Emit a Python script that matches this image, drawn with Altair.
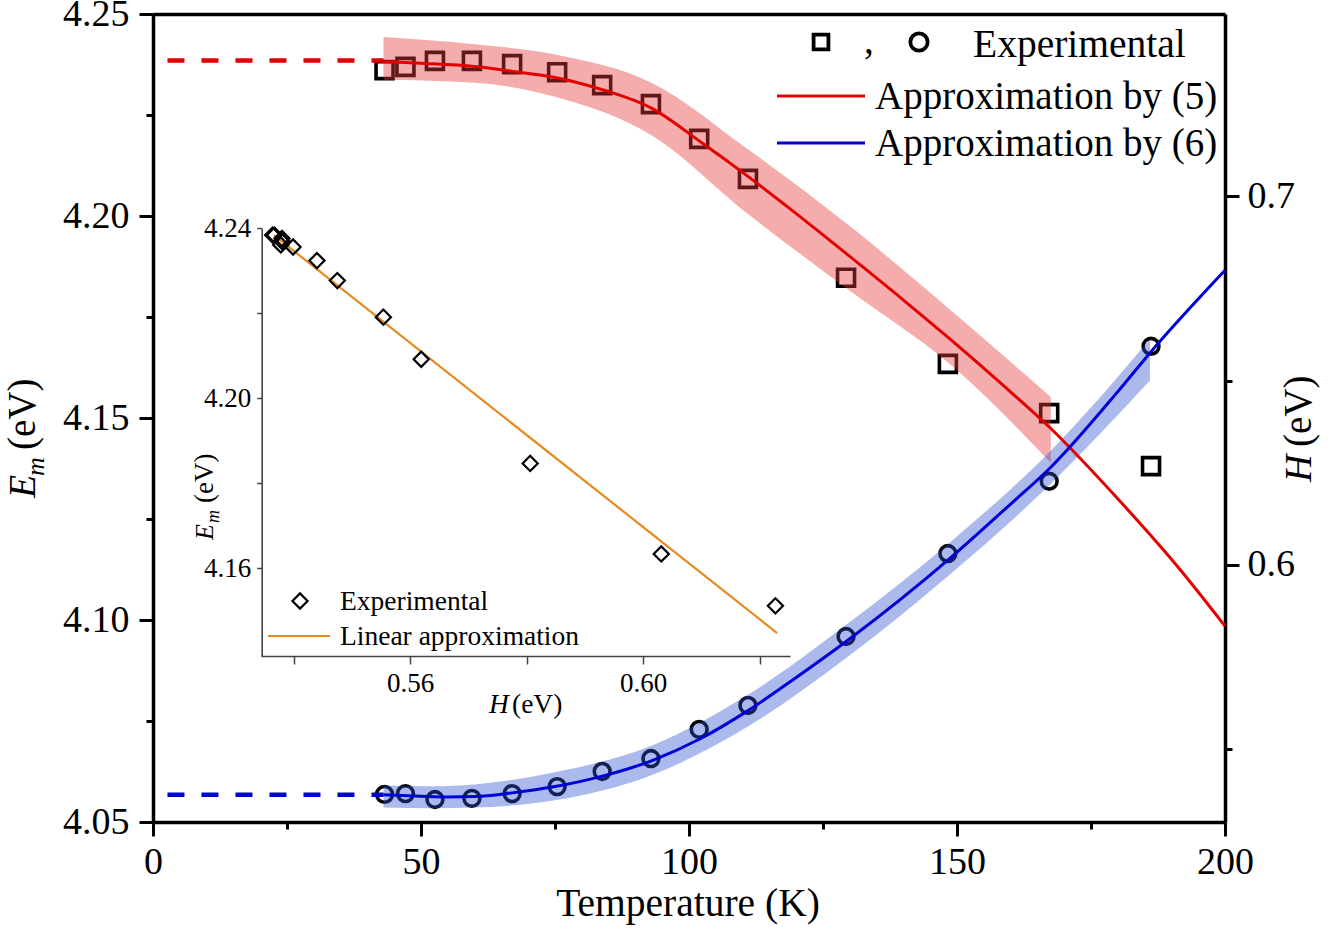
import altair as alt
import pandas as pd

# ---------------- data ----------------
T_exp = [43.2, 47.1, 52.6, 59.5, 67.0, 75.4, 83.8, 92.9, 101.9, 111.0, 129.3, 148.3, 167.2, 186.2]
Em_exp = [4.2361, 4.2369, 4.2384, 4.2384, 4.2376, 4.2356, 4.2324, 4.2277, 4.2191, 4.2092,
          4.1847, 4.1634, 4.1512, 4.1381]
H_exp = [0.5378, 0.5380, 0.5364, 0.5367, 0.5380, 0.5399, 0.5440, 0.5475, 0.5554, 0.5619,
         0.5806, 0.6031, 0.6227, 0.6593]

T_fit5 = [43, 50, 60, 67, 75, 84, 93, 102, 111, 120, 130, 140, 149, 158, 167.5, 180, 191.8, 200]
Em_fit5 = [4.2382, 4.2378, 4.2370, 4.2358, 4.2343, 4.2312, 4.2267, 4.2185, 4.2098, 4.2006,
           4.1900, 4.1792, 4.1692, 4.1588, 4.1474, 4.1300, 4.1122, 4.0985]

T_band5 = [43, 60, 75, 93, 111, 130, 149, 167.5]
Em_band5_hi = [4.2443, 4.2425, 4.2400, 4.2330, 4.2165, 4.1975, 4.1765, 4.1552]
Em_band5_lo = [4.2337, 4.2330, 4.2295, 4.2200, 4.2005, 4.1815, 4.1630, 4.1389]

T_fit6 = [43, 50, 55, 60, 67, 75, 84, 93, 102, 111, 120, 130, 149, 160, 167.5, 180, 186, 200]
H_fit6 = [0.5377, 0.5373, 0.5371, 0.5372, 0.5382, 0.5399, 0.5428, 0.5469, 0.5528, 0.5605,
          0.5695, 0.5800, 0.6022, 0.6165, 0.6265, 0.6470, 0.6575, 0.6799]

T_band6 = [43, 52, 60, 75, 93, 111, 130, 149, 167.5, 186]
H_band6_hi = [0.5402, 0.5400, 0.5405, 0.5438, 0.5510, 0.5648, 0.5845, 0.6065, 0.6310, 0.6612]
H_band6_lo = [0.5342, 0.5340, 0.5342, 0.5362, 0.5430, 0.5562, 0.5755, 0.5978, 0.6220, 0.6500]

T_dash = [2.7, 43]
Em_dash = [4.2385, 4.2385]
H_dash = [0.5377, 0.5377]

# inset: linear approximation of Em vs H
H_lin = [0.5366, 0.6230]
Em_lin = [4.2384, 4.1448]
N_INSET = 13

# ---------------- layout ----------------
FONT = "Liberation Serif"
L, TOP, W, HGT = 153, 14, 1072, 808
RED, BLUE, ORANGE = "#E50000", "#0000D8", "#E8891E"


def sc(domain, rng=None):
    kw = dict(domain=domain, nice=False, zero=False)
    if rng is not None:
        kw["range"] = rng
    return alt.Scale(**kw)


sT = sc([0, 200])
sE = sc([4.05, 4.25])
sH = sc([0.5303, 0.7494])
sHi = sc([0.5344, 0.6252], [261 - L, 790 - L])
sEi = sc([4.1394, 4.24], [656 - TOP, 228.3 - TOP])

exp_df = pd.DataFrame({"T": T_exp, "Em": Em_exp, "H": H_exp})
inset_df = exp_df.iloc[:N_INSET]
fit5_df = pd.DataFrame({"T": T_fit5, "Em": Em_fit5})
fit6_df = pd.DataFrame({"T": T_fit6, "H": H_fit6})
band5_df = pd.DataFrame({"T": T_band5, "hi": Em_band5_hi, "lo": Em_band5_lo})
band6_df = pd.DataFrame({"T": T_band6, "hi": H_band6_hi, "lo": H_band6_lo})
dash_df = pd.DataFrame({"T": T_dash, "Em": Em_dash, "H": H_dash})
lin_df = pd.DataFrame({"H": H_lin, "Em": Em_lin})
one = pd.DataFrame({"a": [0]})

X = lambda f, s, axis=None: alt.X(f, type="quantitative", scale=s, axis=axis)
Y = lambda f, s, axis=None: alt.Y(f, type="quantitative", scale=s, axis=axis)

layers = []

# ---- inset ----
layers.append(alt.Chart(lin_df).mark_line(color=ORANGE, strokeWidth=2.2).encode(
    x=X("H", sHi), y=Y("Em", sEi)))
layers.append(alt.Chart(inset_df).mark_point(shape="diamond", size=230, filled=False, color="black",
                                             strokeWidth=2.2, opacity=1).encode(
    x=X("H", sHi), y=Y("Em", sEi)))

# ---- experimental points ----
layers.append(alt.Chart(exp_df).mark_point(shape="square", size=289, filled=False, color="black",
                                           strokeWidth=3.6, opacity=1).encode(
    x=X("T", sT), y=Y("Em", sE)))
layers.append(alt.Chart(exp_df).mark_point(shape="circle", size=250, filled=False, color="black",
                                           strokeWidth=3.6, opacity=1).encode(
    x=X("T", sT), y=Y("H", sH)))

# ---- confidence bands (drawn over the markers) ----
layers.append(alt.Chart(band5_df).mark_area(color="#E83A3A", opacity=0.42, interpolate="monotone").encode(
    x=X("T", sT), y=Y("hi", sE), y2="lo"))
layers.append(alt.Chart(band6_df).mark_area(color="#3050D0", opacity=0.4, interpolate="monotone").encode(
    x=X("T", sT), y=Y("hi", sH), y2="lo"))

# ---- fits ----
layers.append(alt.Chart(fit5_df).mark_line(color=RED, strokeWidth=3, interpolate="monotone").encode(
    x=X("T", sT), y=Y("Em", sE)))
layers.append(alt.Chart(fit6_df).mark_line(color=BLUE, strokeWidth=3, interpolate="monotone").encode(
    x=X("T", sT), y=Y("H", sH)))
layers.append(alt.Chart(dash_df).mark_line(color=RED, strokeWidth=4.5, strokeDash=[17, 17]).encode(
    x=X("T", sT), y=Y("Em", sE)))
layers.append(alt.Chart(dash_df).mark_line(color=BLUE, strokeWidth=4.5, strokeDash=[17, 17]).encode(
    x=X("T", sT), y=Y("H", sH)))

# ---- axes ----
def ax(**kw):
    base = dict(title=None, grid=False, labelFont=FONT, labelColor="black", tickColor="black",
                domainColor="black", labelFlush=False, labelOverlap=False)
    base.update(kw)
    return alt.Axis(**base)


def axis_layer(x=None, y=None):
    enc = {}
    if x is not None:
        enc["x"] = x
    if y is not None:
        enc["y"] = y
    return alt.Chart(exp_df).mark_point(opacity=0).encode(**enc)


MAIN = dict(tickWidth=3, domainWidth=3.5, offset=0)
TICKFS = 38
layers.append(axis_layer(x=X("T", sT, ax(orient="bottom", values=[0, 50, 100, 150, 200], format="d",
                                         tickSize=14, labelFontSize=TICKFS, labelPadding=7, **MAIN))))
layers.append(axis_layer(x=X("T", sT, ax(orient="bottom", values=[25, 75, 125, 175], labels=False,
                                         tickSize=7, domain=False, tickWidth=3, offset=0))))
layers.append(axis_layer(x=X("T", sT, ax(orient="top", ticks=False, labels=False, **MAIN))))
layers.append(axis_layer(y=Y("Em", sE, ax(orient="left", values=[4.05, 4.10, 4.15, 4.20, 4.25],
                                          format=".2f", tickSize=14, labelFontSize=TICKFS,
                                          labelPadding=10, **MAIN))))
layers.append(axis_layer(y=Y("Em", sE, ax(orient="left", values=[4.075, 4.125, 4.175, 4.225],
                                          labels=False, tickSize=7, domain=False, tickWidth=3,
                                          offset=0))))
layers.append(axis_layer(y=Y("H", sH, ax(orient="right", values=[0.6, 0.7], format=".1f",
                                         tickSize=14, labelFontSize=TICKFS, labelPadding=8, **MAIN))))
layers.append(axis_layer(y=Y("H", sH, ax(orient="right", values=[0.55, 0.65], labels=False,
                                         tickSize=7, domain=False, tickWidth=3, offset=0))))

INS = dict(tickWidth=1.5, domainWidth=1.6, domainColor="#444444", tickColor="#444444")
layers.append(axis_layer(x=X("H", sHi, ax(orient="bottom", values=[0.56, 0.60], format=".2f",
                                          tickSize=8, labelFontSize=27, labelPadding=6,
                                          offset=656 - (TOP + HGT), **INS))))
layers.append(axis_layer(x=X("H", sHi, ax(orient="bottom", values=[0.54, 0.58, 0.62], labels=False,
                                          tickSize=8, domain=False, offset=656 - (TOP + HGT),
                                          tickWidth=1.5, tickColor="#444444"))))
layers.append(axis_layer(y=Y("Em", sEi, ax(orient="left", values=[4.16, 4.20, 4.24], format=".2f",
                                           tickSize=5, labelFontSize=27, labelPadding=6,
                                           offset=L - 261.7, **INS))))
layers.append(axis_layer(y=Y("Em", sEi, ax(orient="left", values=[4.18, 4.22], labels=False,
                                           tickSize=5, domain=False, offset=L - 261.7,
                                           tickWidth=1.5, tickColor="#444444"))))


# ---- texts (titles / legends) ----
def txt(s, x, y, size, style="normal", angle=0, align="left", baseline="alphabetic", color="black"):
    return alt.Chart(one).mark_text(text=s, font=FONT, fontSize=size, fontStyle=style, angle=angle,
                                    align=align, baseline=baseline, color=color).encode(
        x=alt.value(x - L), y=alt.value(y - TOP))


def sym(shape, x, y, size, sw):
    return alt.Chart(one).mark_point(shape=shape, size=size, filled=False, color="black",
                                     strokeWidth=sw, opacity=1).encode(
        x=alt.value(x - L), y=alt.value(y - TOP))


def seg(x1, x2, y, color, sw):
    return alt.Chart(one).mark_rule(color=color, strokeWidth=sw).encode(
        x=alt.value(x1 - L), x2=alt.value(x2 - L), y=alt.value(y - TOP))


# main axis titles
layers.append(txt("Temperature (K)", 688, 916, 39.5, align="center"))
layers.append(txt("E", 35, 498, 38, style="italic", angle=270))
layers.append(txt("m", 44, 476, 26, style="italic", angle=270))
layers.append(txt("(eV)", 35, 450, 39, angle=270))
layers.append(txt("H", 1311, 482, 38, style="italic", angle=270))
layers.append(txt("(eV)", 1311, 447, 39, angle=270))

# inset axis titles
layers.append(txt("H", 489, 713, 27.5, style="italic"))
layers.append(txt("(eV)", 512, 713, 27.5))
layers.append(txt("E", 213, 540, 26, style="italic", angle=270))
layers.append(txt("m", 219, 523, 18, style="italic", angle=270))
layers.append(txt("(eV)", 213, 503, 27, angle=270))

# main legend
layers.append(sym("square", 821, 42, 220, 3.8))
layers.append(txt(",", 864, 53, 39))
layers.append(sym("circle", 919, 42, 300, 3.8))
layers.append(txt("Experimental", 973, 57, 39.5))
layers.append(seg(777, 865, 96, RED, 3))
layers.append(txt("Approximation by (5)", 875, 109, 39))
layers.append(seg(777, 865, 143, BLUE, 3))
layers.append(txt("Approximation by (6)", 875, 156, 39))

# inset legend
layers.append(sym("diamond", 300, 601, 230, 2.2))
layers.append(txt("Experimental", 340, 610, 27.5))
layers.append(seg(268, 330, 636, ORANGE, 2.2))
layers.append(txt("Linear approximation", 340, 645, 27.5))

chart = alt.layer(*layers).resolve_scale(x="independent", y="independent").properties(
    width=W, height=HGT, autosize="none",
    padding={"left": L, "top": TOP, "right": 1333 - L - W, "bottom": 930 - TOP - HGT},
    background="white",
).configure_view(stroke=None)

chart.save("out.html", embed_options={"renderer": "svg", "actions": False})
